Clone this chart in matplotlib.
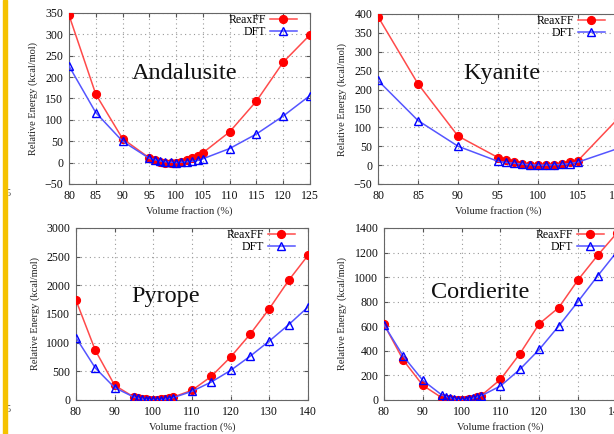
import matplotlib
matplotlib.use("Agg")
import matplotlib.pyplot as plt
from matplotlib.patches import Rectangle

plt.rcParams['font.family'] = ['Liberation Serif', 'DejaVu Serif']

# volume fractions (%)
vol_small = [80, 85, 90, 95, 96, 97, 98, 99, 100, 101, 102, 103, 104, 105, 110]
vol_full_125 = [80, 85, 90, 95, 96, 97, 98, 99, 100, 101, 102, 103, 104, 105, 110, 115, 120, 125]
vol_full_140 = [80, 85, 90, 95, 96, 97, 98, 99, 100, 101, 102, 103, 104, 105,
                110, 115, 120, 125, 130, 135, 140]

# Andalusite
anda_reax = [345, 160, 56, 11, 5, 2, -1, -1, 0, 2, 5, 10, 16, 23, 72, 144, 235, 299]
anda_dft = [226, 117, 50, 10, 7, 4, 2, 1, 0, 1, 2, 3, 5, 9, 33, 67, 109, 157]

# Kyanite
kya_reax = [393, 215, 77, 20, 13, 8, 4, 1, 0, 0, 1, 3, 8, 12, 123]
kya_dft = [224, 118, 50, 10, 7, 5, 3, 1, 0, 0, 1, 2, 4, 8, 44]

# Pyrope
pyr_reax = [1739, 866, 256, 50, 35, 20, 10, 3, 0, 3, 10, 20, 32, 48,
            169, 413, 750, 1145, 1593, 2087, 2523]
pyr_dft = [1087, 558, 215, 50, 32, 18, 8, 2, 0, 2, 8, 16, 26, 38,
           151, 314, 517, 762, 1029, 1314, 1622]

# Cordierite
cor_reax = [616, 323, 119, 16, 10, 5, 2, 0, 0, 2, 6, 12, 22, 35,
            168, 377, 621, 752, 979, 1177, 1360]
cor_dft = [612, 355, 160, 38, 28, 18, 10, 4, 0, 3, 8, 15, 24, 34,
           114, 250, 412, 602, 803, 1009, 1208]

W, H = 614, 434
fig = plt.figure(figsize=(W / 100, H / 100), dpi=100)

# panels: name, x, reaxff, dft, box (left, right, top, bottom px), xlim, xstep, ylim, ystep, title pos
panels = [
    ("Andalusite", vol_full_125, anda_reax, anda_dft, (69, 310, 13, 184), (80, 125), 5, (-50, 350), 50, (0.479, 0.614)),
    ("Kyanite", vol_small, kya_reax, kya_dft, (378, 618, 14, 184), (80, 110), 5, (-50, 400), 50, (0.515, 0.618)),
    ("Pyrope", vol_full_140, pyr_reax, pyr_dft, (76, 308, 228, 400), (80, 140), 10, (0, 3000), 500, (0.388, 0.57)),
    ("Cordierite", vol_full_140, cor_reax, cor_dft, (384, 617, 228, 400), (80, 140), 10, (0, 1400), 200, (0.412, 0.593)),
]

for name, x, reax, dft, box, xlim, xstep, ylim, ystep, tpos in panels:
    l, r, t, b = box
    ax = fig.add_axes([l / W, 1 - b / H, (r - l) / W, (b - t) / H])
    ax.plot(x, reax, color='#ff4a4a', lw=1.1, marker='o', ms=5.6,
            mfc='#ff0000', mec='#ff0000', label='ReaxFF', zorder=3)
    ax.plot(x, dft, color='#5555ff', lw=1.1, marker='^', ms=6,
            mfc='none', mec='#0000ff', mew=1.0, label='DFT', zorder=4)
    ax.set_xlim(*xlim)
    ax.set_ylim(*ylim)
    ax.set_xticks(range(xlim[0], xlim[1] + 1, xstep))
    ax.set_yticks(range(ylim[0], ylim[1] + 1, ystep))
    ax.grid(True, color='#999999', ls=(0, (1, 3)), lw=0.8)
    ax.tick_params(direction='in', top=True, right=True, length=3,
                   labelsize=8.6, colors='#555555', labelcolor='#111111', pad=4)
    for s in ax.spines.values():
        s.set_color('#666666')
        s.set_linewidth(0.8)
    ax.set_xlabel("Volume fraction (%)", fontsize=7.6, color='#222222', labelpad=3)
    ax.set_ylabel("Relative Energy (kcal/mol)", fontsize=7.5, color='#222222', labelpad=5)
    ax.text(tpos[0], tpos[1], name, transform=ax.transAxes, ha='center',
            va='baseline', fontsize=17.5, color='#111111')
    pw, ph = r - l, b - t
    ax.legend(loc='upper right', bbox_to_anchor=(1 - 13 / pw, 1 - 1 / ph),
              frameon=False, markerfirst=False, numpoints=1, fontsize=8.5,
              handlelength=2.3, handletextpad=0.3, labelspacing=0.0,
              borderpad=0, borderaxespad=0)

# leftover bits of the page at the left edge
fig.text(8 / W, 1 - 193 / H, "5", fontsize=7.5, ha='center', va='center', color='#555555')
fig.text(8 / W, 1 - 410 / H, "5", fontsize=7.5, ha='center', va='center', color='#555555')
fig.add_artist(Rectangle((2.7 / W, 0), 4.6 / W, 1, transform=fig.transFigure,
                         color='#f5c200', zorder=10))

fig.savefig("out.png", dpi=100)
